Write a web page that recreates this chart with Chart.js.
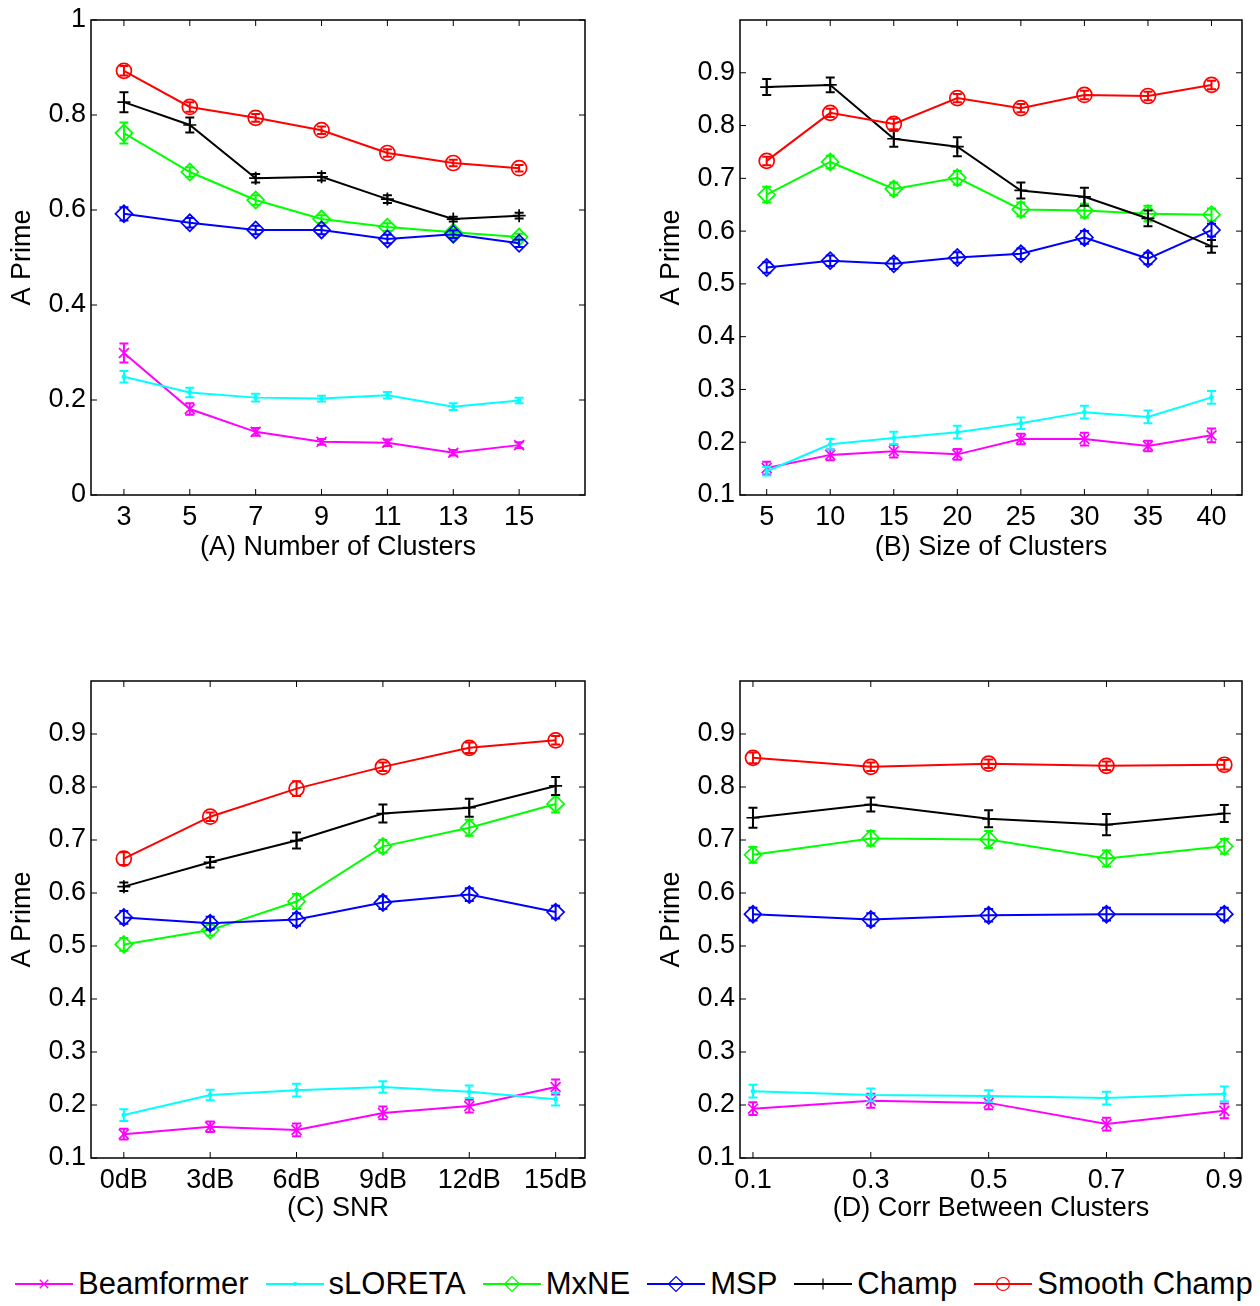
<!DOCTYPE html>
<html>
<head>
<meta charset="utf-8">
<script src="https://cdn.jsdelivr.net/npm/chart.js@4.4.0/dist/chart.umd.min.js"></script>
<style>
  body { margin: 0; background: #fff; width: 1260px; height: 1306px; position: relative; overflow: hidden;
         font-family: "Liberation Sans", Arial, sans-serif; }
  canvas.panel { position: absolute; }
  #legend { position: absolute; left: 14px; top: 1262px; height: 44px; display: flex; gap: 16px;
            align-items: center; font-size: 31px; color: #000; white-space: nowrap; }
  .item { display: flex; align-items: center; }
  .item canvas { margin-right: 4px; }
</style>
</head>
<body>
<canvas id="chartA" class="panel" width="630" height="570" style="left:0;top:0"></canvas>
<canvas id="chartB" class="panel" width="611" height="570" style="left:649px;top:0"></canvas>
<canvas id="chartC" class="panel" width="630" height="570" style="left:0;top:661px"></canvas>
<canvas id="chartD" class="panel" width="611" height="570" style="left:649px;top:661px"></canvas>
<div id="legend"></div>
<script>
// methods, in plotting order
const methods = ['Beamformer', 'sLORETA', 'MxNE', 'MSP', 'Champ', 'Smooth Champ'];
const colors = ['#ff00ff', '#00ffff', '#00ff00', '#0000ff', '#000000', '#ff0000'];
const markers = ['crossRot', 'circle', 'rectRot', 'rectRot', 'cross', 'circle'];
const markerSize = [7, 1.5, 8.5, 8.5, 6.5, 7.5];

// x categories
const clusterCounts = [3, 5, 7, 9, 11, 13, 15];
const clusterSizes = [5, 10, 15, 20, 25, 30, 35, 40];
const snrLabels = ['0dB', '3dB', '6dB', '9dB', '12dB', '15dB'];
const corrValues = [0.1, 0.3, 0.5, 0.7, 0.9];

// y ticks
const ticksA = [0, 0.2, 0.4, 0.6, 0.8, 1];
const ticksBCD = [0.1, 0.2, 0.3, 0.4, 0.5, 0.6, 0.7, 0.8, 0.9];

// (A) number of clusters: one row per method
const meanA = [
  [0.299, 0.181, 0.133, 0.112, 0.110, 0.089, 0.105],
  [0.249, 0.216, 0.205, 0.203, 0.210, 0.186, 0.199],
  [0.762, 0.680, 0.621, 0.581, 0.564, 0.553, 0.543],
  [0.592, 0.573, 0.558, 0.558, 0.539, 0.549, 0.530],
  [0.827, 0.779, 0.667, 0.670, 0.623, 0.581, 0.588],
  [0.893, 0.817, 0.794, 0.768, 0.720, 0.699, 0.688]
];
const errA = [
  [0.020, 0.012, 0.008, 0.006, 0.007, 0.006, 0.006],
  [0.012, 0.010, 0.008, 0.006, 0.007, 0.007, 0.006],
  [0.022, 0.010, 0.010, 0.008, 0.008, 0.007, 0.007],
  [0.014, 0.010, 0.009, 0.009, 0.009, 0.008, 0.008],
  [0.021, 0.016, 0.009, 0.008, 0.008, 0.005, 0.006],
  [0.010, 0.010, 0.008, 0.008, 0.008, 0.007, 0.007]
];

// (B) size of clusters
const meanB = [
  [0.151, 0.176, 0.183, 0.177, 0.206, 0.206, 0.193, 0.213],
  [0.145, 0.196, 0.208, 0.219, 0.236, 0.257, 0.248, 0.285],
  [0.669, 0.731, 0.680, 0.701, 0.641, 0.639, 0.633, 0.631],
  [0.531, 0.544, 0.538, 0.550, 0.557, 0.588, 0.548, 0.602],
  [0.873, 0.877, 0.775, 0.760, 0.677, 0.665, 0.624, 0.571],
  [0.733, 0.824, 0.803, 0.852, 0.833, 0.858, 0.856, 0.877]
];
const errB = [
  [0.012, 0.010, 0.012, 0.010, 0.010, 0.012, 0.010, 0.013],
  [0.008, 0.010, 0.012, 0.012, 0.011, 0.012, 0.012, 0.012],
  [0.015, 0.012, 0.012, 0.013, 0.013, 0.013, 0.015, 0.012],
  [0.010, 0.010, 0.010, 0.010, 0.010, 0.012, 0.011, 0.012],
  [0.015, 0.014, 0.015, 0.018, 0.015, 0.017, 0.015, 0.012],
  [0.008, 0.008, 0.010, 0.008, 0.008, 0.008, 0.008, 0.008]
];

// (C) SNR
const meanC = [
  [0.145, 0.159, 0.153, 0.185, 0.198, 0.234],
  [0.181, 0.219, 0.228, 0.234, 0.225, 0.211],
  [0.503, 0.530, 0.584, 0.688, 0.723, 0.768],
  [0.554, 0.543, 0.550, 0.582, 0.597, 0.564],
  [0.612, 0.658, 0.699, 0.750, 0.761, 0.802],
  [0.665, 0.744, 0.797, 0.838, 0.874, 0.888]
];
const errC = [
  [0.010, 0.010, 0.012, 0.012, 0.012, 0.014],
  [0.011, 0.010, 0.012, 0.011, 0.012, 0.012],
  [0.012, 0.010, 0.014, 0.012, 0.015, 0.016],
  [0.012, 0.012, 0.012, 0.012, 0.012, 0.012],
  [0.008, 0.010, 0.015, 0.017, 0.017, 0.017],
  [0.012, 0.008, 0.014, 0.008, 0.010, 0.008]
];

// (D) correlation between clusters
const meanD = [
  [0.193, 0.208, 0.204, 0.164, 0.189],
  [0.226, 0.219, 0.217, 0.213, 0.221],
  [0.672, 0.703, 0.701, 0.665, 0.688],
  [0.560, 0.550, 0.558, 0.560, 0.560],
  [0.742, 0.767, 0.740, 0.729, 0.750],
  [0.855, 0.838, 0.844, 0.840, 0.842]
];
const errD = [
  [0.012, 0.013, 0.012, 0.012, 0.014],
  [0.012, 0.012, 0.011, 0.012, 0.014],
  [0.015, 0.014, 0.016, 0.015, 0.014],
  [0.012, 0.012, 0.012, 0.012, 0.012],
  [0.019, 0.013, 0.016, 0.020, 0.016],
  [0.010, 0.008, 0.008, 0.008, 0.009]
];

const FONT = '"Liberation Sans", Arial, sans-serif';

// vertical error bars with caps, drawn after each dataset
const errorBars = {
  id: 'errorBars',
  afterDatasetDraw(chart, args) {
    const ds = chart.data.datasets[args.index];
    const y = chart.scales.y;
    const ctx = chart.ctx;
    ctx.save();
    ctx.strokeStyle = ds.borderColor;
    ctx.lineWidth = 2;
    ctx.beginPath();
    args.meta.data.forEach((pt, i) => {
      const v = ds.data[i].y, e = ds.errors[i];
      const lo = y.getPixelForValue(v - e), hi = y.getPixelForValue(v + e);
      ctx.moveTo(pt.x, lo); ctx.lineTo(pt.x, hi);
      ctx.moveTo(pt.x - 4.5, lo); ctx.lineTo(pt.x + 4.5, lo);
      ctx.moveTo(pt.x - 4.5, hi); ctx.lineTo(pt.x + 4.5, hi);
    });
    ctx.stroke();
    ctx.restore();
  }
};

// box with inward ticks, matlab style
const frame = {
  id: 'frame',
  afterDraw(chart) {
    const { ctx, chartArea: a } = chart;
    const x = chart.scales.x, y = chart.scales.y;
    ctx.save();
    ctx.strokeStyle = '#000';
    ctx.lineWidth = 1.5;
    ctx.strokeRect(a.left, a.top, a.right - a.left, a.bottom - a.top);
    ctx.lineWidth = 1;
    ctx.beginPath();
    x.ticks.forEach(t => {
      const px = x.getPixelForValue(t.value);
      ctx.moveTo(px, a.bottom); ctx.lineTo(px, a.bottom - 6);
      ctx.moveTo(px, a.top); ctx.lineTo(px, a.top + 6);
    });
    y.ticks.forEach(t => {
      const py = y.getPixelForValue(t.value);
      ctx.moveTo(a.left, py); ctx.lineTo(a.left + 6, py);
      ctx.moveTo(a.right, py); ctx.lineTo(a.right - 6, py);
    });
    ctx.stroke();
    ctx.restore();
  }
};

function makePanel(id, p) {
  const datasets = methods.map((m, k) => ({
    label: m,
    data: p.xs.map((x, i) => ({ x: x, y: p.means[k][i] })),
    errors: p.errs[k],
    borderColor: colors[k],
    backgroundColor: colors[k],
    borderWidth: 2,
    pointStyle: markers[k],
    pointRadius: markerSize[k],
    pointBorderWidth: 1.7,
    pointBackgroundColor: k === 1 ? colors[k] : 'rgba(0,0,0,0)',
    pointBorderColor: colors[k],
    order: methods.length - k,
    tension: 0
  }));
  return new Chart(document.getElementById(id), {
    type: 'line',
    data: { datasets: datasets },
    plugins: [errorBars, frame],
    options: {
      responsive: false,
      animation: false,
      devicePixelRatio: 1,
      layout: { padding: { left: 0, top: 20, right: p.padRight, bottom: 0 } },
      plugins: { legend: { display: false }, tooltip: { enabled: false } },
      scales: {
        x: {
          type: 'linear', min: p.xMin, max: p.xMax,
          grid: { display: false, drawTicks: false },
          border: { display: false },
          afterBuildTicks: s => { s.ticks = p.xs.map(v => ({ value: v })); },
          afterFit: s => { s.height = p.xHeight; },
          ticks: {
            autoSkip: false, maxRotation: 0, padding: 9, color: '#000',
            font: { family: FONT, size: 27, lineHeight: 1 },
            callback: v => p.xLabels[p.xs.indexOf(v)]
          },
          title: {
            display: true, text: p.title, color: '#000',
            font: { family: FONT, size: 27, lineHeight: 1 },
            padding: { top: 0, bottom: 9 }
          }
        },
        y: {
          min: p.yMin, max: 1,
          grid: { display: false, drawTicks: false },
          border: { display: false },
          afterBuildTicks: s => { s.ticks = p.yTicks.map(v => ({ value: v })); },
          afterFit: s => { s.width = 91; },
          ticks: {
            padding: 5, color: '#000',
            font: { family: FONT, size: 27, lineHeight: 1 },
            callback: v => String(+v.toFixed(2))
          },
          title: {
            display: true, text: 'A Prime', color: '#000',
            font: { family: FONT, size: 27, lineHeight: 1 },
            padding: { top: 9, bottom: 0 }
          }
        }
      }
    }
  });
}

makePanel('chartA', {
  xs: clusterCounts, xLabels: clusterCounts.map(String), xMin: 2, xMax: 17,
  yMin: 0, yTicks: ticksA, means: meanA, errs: errA,
  title: '(A) Number of Clusters', padRight: 45, xHeight: 75
});
makePanel('chartB', {
  xs: clusterSizes, xLabels: clusterSizes.map(String), xMin: 2.9, xMax: 42.4,
  yMin: 0.1, yTicks: ticksBCD, means: meanB, errs: errB,
  title: '(B) Size of Clusters', padRight: 18, xHeight: 75
});
makePanel('chartC', {
  xs: [1, 2, 3, 4, 5, 6], xLabels: snrLabels, xMin: 0.62, xMax: 6.34,
  yMin: 0.1, yTicks: ticksBCD, means: meanC, errs: errC,
  title: '(C) SNR', padRight: 45, xHeight: 73
});
makePanel('chartD', {
  xs: corrValues, xLabels: corrValues.map(String), xMin: 0.078, xMax: 0.93,
  yMin: 0.1, yTicks: ticksBCD, means: meanD, errs: errD,
  title: '(D) Corr Between Clusters', padRight: 18, xHeight: 73
});

// shared legend: line with marker, then name
const legend = document.getElementById('legend');
methods.forEach((m, k) => {
  const item = document.createElement('div');
  item.className = 'item';
  const c = document.createElement('canvas');
  c.width = 60; c.height = 30;
  const ctx = c.getContext('2d');
  ctx.strokeStyle = colors[k];
  ctx.lineWidth = 2;
  ctx.beginPath(); ctx.moveTo(1, 15); ctx.lineTo(59, 15); ctx.stroke();
  ctx.lineWidth = 1.2;
  ctx.fillStyle = k === 1 ? colors[k] : 'rgba(0,0,0,0)';
  Chart.helpers.drawPoint(ctx, {
    pointStyle: markers[k], radius: k === 1 ? 1.5 : markerSize[k] - 1, rotation: 0, borderWidth: 1.2
  }, 30, 15);
  const label = document.createElement('span');
  label.textContent = m;
  item.appendChild(c);
  item.appendChild(label);
  legend.appendChild(item);
});
</script>
</body>
</html>
